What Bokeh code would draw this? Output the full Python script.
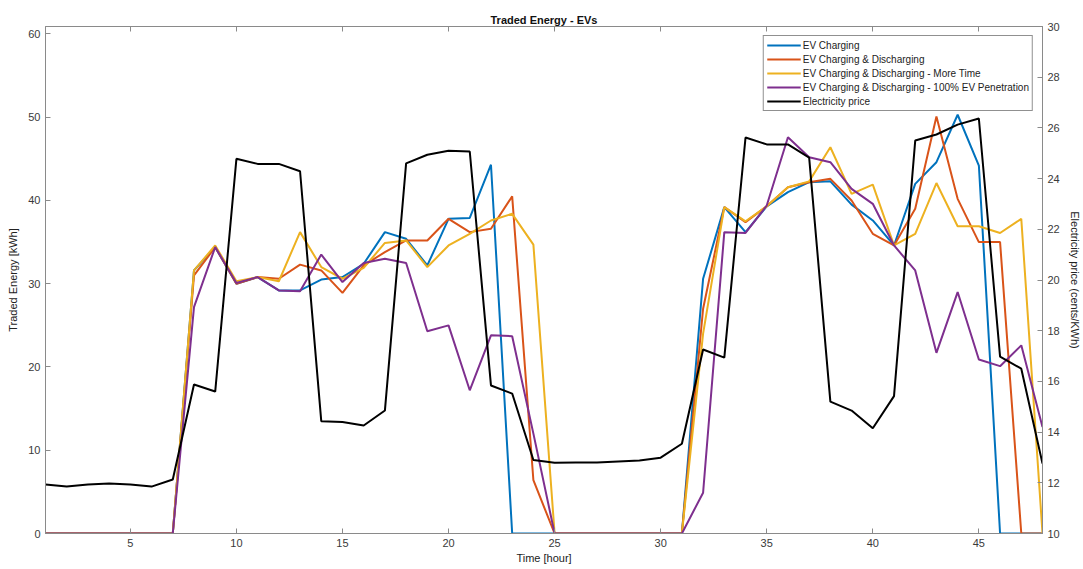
from bokeh.plotting import figure
from bokeh.models import Range1d, LinearAxis, FixedTicker, Legend, LegendItem
from bokeh.embed import file_html
from bokeh.resources import INLINE

hours = list(range(1, 49))

ev_charging = [0, 0, 0, 0, 0, 0, 0, 31.6, 34.4, 30.0, 30.8, 29.2, 29.2, 30.5, 30.8, 32.4,
               36.2, 35.4, 32.2, 37.8, 37.9, 44.3, 0, 0, 0, 0, 0, 0, 0, 0, 0, 30.6,
               39.2, 36.2, 39.3, 41.0, 42.2, 42.3, 39.5, 37.6, 34.6, 42.0, 44.6, 50.3, 44.2, 0, 0, 0]

ev_chg_dis = [0, 0, 0, 0, 0, 0, 0, 31.0, 34.4, 30.0, 30.8, 30.6, 32.3, 31.6, 28.9, 32.2,
              33.8, 35.2, 35.2, 37.8, 36.2, 36.6, 40.5, 6.4, 0, 0, 0, 0, 0, 0, 0, 27.0,
              39.2, 37.4, 39.3, 41.6, 42.2, 42.6, 40.0, 36.0, 34.6, 39.0, 50.1, 40.2, 35.0, 35.0, 0, 0]

ev_more_time = [0, 0, 0, 0, 0, 0, 0, 31.6, 34.6, 30.3, 30.8, 30.3, 36.2, 32.0, 30.6, 31.9,
                34.9, 35.2, 32.0, 34.6, 36.0, 37.6, 38.4, 34.7, 0, 0, 0, 0, 0, 0, 0, 24.0,
                39.2, 37.5, 39.3, 41.6, 42.3, 46.4, 40.8, 41.9, 34.6, 36.0, 42.1, 36.9, 36.9, 36.1, 37.8, 0]

ev_full_pen = [0, 0, 0, 0, 0, 0, 0, 27.2, 34.4, 30.1, 30.8, 29.2, 29.1, 33.5, 30.2, 32.5,
               33.0, 32.5, 24.3, 25.0, 17.2, 23.8, 23.7, 12.0, 0, 0, 0, 0, 0, 0, 0, 4.9,
               36.2, 36.1, 39.4, 47.6, 45.2, 44.6, 41.4, 39.6, 34.6, 31.6, 21.7, 29.0, 20.9, 20.1, 22.6, 12.8]

price = [11.93, 11.85, 11.93, 11.97, 11.93, 11.85, 12.13, 15.88, 15.6, 24.78, 24.58, 24.58,
         24.29, 14.43, 14.4, 14.26, 14.85, 24.6, 24.94, 25.1, 25.07, 15.84, 15.52, 12.9,
         12.79, 12.8, 12.8, 12.84, 12.88, 12.99, 13.54, 17.26, 16.94, 25.62, 25.35, 25.35,
         24.83, 15.2, 14.85, 14.15, 15.42, 25.5, 25.74, 26.13, 26.37, 16.98, 16.5, 12.76]

series_names = ["EV Charging", "EV Charging & Discharging", "EV Charging & Discharging - More Time",
                "EV Charging & Discharging - 100% EV Penetration", "Electricity price"]
series_colors = ["#0072BD", "#D95319", "#EDB120", "#7E2F8E", "#000000"]

x_ticks = [5, 10, 15, 20, 25, 30, 35, 40, 45]
left_ticks = [0, 10, 20, 30, 40, 50, 60]
right_ticks = [10, 12, 14, 16, 18, 20, 22, 24, 26, 28, 30]

FONT = "Liberation Sans"
AXC = "#8a8a8a"
TXT = "#3a3a3a"

p = figure(width=1083, height=569, output_backend="svg", toolbar_location=None,
           x_range=Range1d(1, 48), y_range=Range1d(0, 60.9),
           min_border_left=45, min_border_right=40, min_border_top=26, min_border_bottom=36,
           x_axis_location=None, y_axis_location=None)
p.title.text = "Traded Energy - EVs"
p.title.align = "center"
p.title.text_font = FONT
p.title.text_font_size = "11px"
p.title.text_font_style = "bold"
p.title.text_color = "#111111"
p.title.standoff = 2
p.title.offset = 0
p.grid.visible = False
p.outline_line_color = AXC
p.outline_line_width = 1
p.background_fill_color = "white"
p.border_fill_color = "white"

p.extra_y_ranges = {"price": Range1d(10, 30)}


def style_axis(ax, ticks):
    ax.ticker = FixedTicker(ticks=ticks)
    ax.axis_line_color = AXC
    ax.major_tick_line_color = AXC
    ax.major_tick_in = 5
    ax.major_tick_out = 0
    ax.minor_tick_line_color = None
    ax.major_label_text_font = FONT
    ax.major_label_text_font_size = "11px"
    ax.major_label_text_color = TXT
    ax.axis_label_text_font = FONT
    ax.axis_label_text_font_size = "11px"
    ax.axis_label_text_color = "#222222"
    ax.axis_label_text_font_style = "normal"


xb = LinearAxis(axis_label="Time [hour]")
style_axis(xb, x_ticks)
xb.major_label_standoff = 5
xb.axis_label_standoff = 2
p.add_layout(xb, "below")

xt = LinearAxis()
style_axis(xt, x_ticks)
xt.major_label_text_alpha = 0
xt.major_label_text_font_size = "1px"
p.add_layout(xt, "above")

yl = LinearAxis(axis_label="Traded Energy [kWh]")
style_axis(yl, left_ticks)
yl.major_label_standoff = 5
yl.axis_label_standoff = 6
p.add_layout(yl, "left")

yr = LinearAxis(y_range_name="price", axis_label="Electricity price (cents/KWh)")
style_axis(yr, right_ticks)
yr.major_label_standoff = 5
yr.axis_label_standoff = 6
p.add_layout(yr, "right")

renderers = []
for data, col in zip([ev_charging, ev_chg_dis, ev_more_time, ev_full_pen], series_colors[:4]):
    r = p.line(hours, data, line_color=col, line_width=2)
    renderers.append(r)
r = p.line(hours, price, line_color=series_colors[4], line_width=2, y_range_name="price")
renderers.append(r)

legend = Legend(items=[LegendItem(label=n, renderers=[rr]) for n, rr in zip(series_names, renderers)],
                location="top_right")
legend.margin = 9
legend.padding = 3
legend.spacing = 2
legend.glyph_width = 34
legend.glyph_height = 12
legend.label_height = 12
legend.label_standoff = 2
legend.label_text_font = FONT
legend.label_text_font_size = "10px"
legend.label_text_color = "#222222"
legend.border_line_color = "#222222"
legend.border_line_width = 1
legend.background_fill_alpha = 1
p.add_layout(legend, "center")

open("out.html", "w").write(file_html(p, INLINE))
